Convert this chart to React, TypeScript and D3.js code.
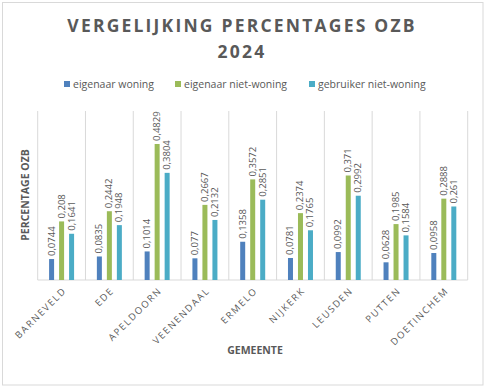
import React from 'react'
import * as d3 from 'd3'

const gemeenten = ['BARNEVELD', 'EDE', 'APELDOORN', 'VEENENDAAL', 'ERMELO', 'NIJKERK', 'LEUSDEN', 'PUTTEN', 'DOETINCHEM']
const seriesNames = ['eigenaar woning', 'eigenaar niet-woning', 'gebruiker niet-woning']
const eigenaarWoning = [0.0744, 0.0835, 0.1014, 0.077, 0.1358, 0.0781, 0.0992, 0.0628, 0.0958]
const eigenaarNietWoning = [0.208, 0.2442, 0.4829, 0.2667, 0.3572, 0.2374, 0.371, 0.1985, 0.2888]
const gebruikerNietWoning = [0.1641, 0.1948, 0.3804, 0.2132, 0.2851, 0.1765, 0.2992, 0.1584, 0.261]
const colors = ['#4F81BD', '#9BBB59', '#4BACC6']

const W = 486, H = 389
const font = "'Open Sans', 'Liberation Sans', sans-serif"
const textCol = '#595959'

export default function App() {
  const series = [eigenaarWoning, eigenaarNietWoning, gebruikerNietWoning]
  const left = 37.7, right = 467.7, top = 111, bottom = 280

  const x = d3.scaleBand().domain(gemeenten).range([left, right])
  const inner = d3.scaleBand().domain(['0', '1', '2']).range([-15, 15]).paddingInner(0.5).paddingOuter(0.25)
  const y = d3.scaleLinear().domain([0, 0.6]).range([bottom, top])
  const fmt = (v: number) => String(v).replace('.', ',')

  const bounds = d3.range(gemeenten.length + 1).map(i => left + i * x.step())

  const legendX = [64, 175, 309]

  return (
    <svg width={W} height={H} style={{ position: 'absolute', left: 0, top: 0 }} fontFamily={font}>
      <rect x={0} y={0} width={W} height={H} fill="#fff" />
      <rect x={2.5} y={2.5} width={480.5} height={382.5} fill="none" stroke="#D9D9D9" />
      <text x={242} y={32} textAnchor="middle" fontSize={17.5} fontWeight="bold" fill={textCol} letterSpacing={2.2}>VERGELIJKING PERCENTAGES OZB</text>
      <text x={242} y={58} textAnchor="middle" fontSize={17.5} fontWeight="bold" fill={textCol} letterSpacing={2.2}>2024</text>

      {seriesNames.map((n, i) => (
        <g key={n}>
          <rect x={legendX[i]} y={81} width={6} height={6} fill={colors[i]} />
          <text x={legendX[i] + 9} y={87.5} fontSize={10.5} fill={textCol}>{n}</text>
        </g>
      ))}

      {bounds.map((b, i) => (
        <line key={i} x1={b} x2={b} y1={top} y2={bottom} stroke="#D9D9D9" />
      ))}
      <line x1={left} x2={right} y1={bottom} y2={bottom} stroke="#D9D9D9" />

      {series.map((vals, si) => (
        <g key={si}>
          {vals.map((v, ci) => {
            const cx = x(gemeenten[ci])! + x.bandwidth() / 2
            const bx = cx + inner(String(si))!
            const bw = inner.bandwidth()
            return (
              <g key={ci}>
                <rect x={bx} y={y(v)} width={bw} height={bottom - y(v)} fill={colors[si]} />
                <text transform={`translate(${bx + bw / 2 + 3},${y(v) - 3}) rotate(-90)`} fontSize={9.5} fill={textCol}>{fmt(v)}</text>
              </g>
            )
          })}
        </g>
      ))}

      {gemeenten.map(g => {
        const cx = x(g)! + x.bandwidth() / 2
        return (
          <text key={g} transform={`translate(${cx + 3},${289}) rotate(-45)`} textAnchor="end" fontSize={9.5} letterSpacing={1.6} fill={textCol} dy="0.35em">{g}</text>
        )
      })}

      <text x={255} y={354} textAnchor="middle" fontSize={10.5} fontWeight="bold" fill={textCol}>GEMEENTE</text>
      <text transform={`translate(29,${195}) rotate(-90)`} textAnchor="middle" fontSize={10.5} fontWeight="bold" fill={textCol}>PERCENTAGE OZB</text>
    </svg>
  )
}
